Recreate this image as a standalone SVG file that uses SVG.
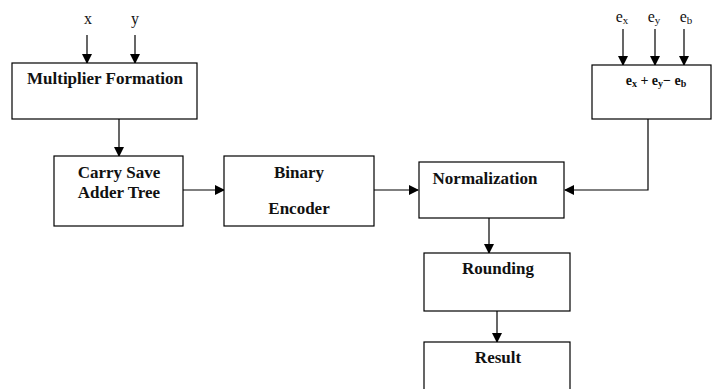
<svg xmlns="http://www.w3.org/2000/svg" width="712" height="389" viewBox="0 0 712 389">
<defs>
<marker id="ah" markerWidth="10" markerHeight="10" refX="9" refY="5" orient="auto" markerUnits="userSpaceOnUse">
<path d="M0,0 L10,5 L0,10 Z" fill="#000"/>
</marker>
<style>
.box{fill:#fff;stroke:#000;stroke-width:1.2}
.t{font-family:"Liberation Serif","Times New Roman",serif;font-weight:bold;font-size:17px;fill:#111;text-anchor:middle}
.lbl{font-family:"Liberation Serif","Times New Roman",serif;font-size:16px;fill:#111;text-anchor:middle}
.sm{font-family:"Liberation Serif","Times New Roman",serif;font-weight:bold;font-size:14px;fill:#111;text-anchor:middle}
.c{fill:none;stroke:#000;stroke-width:1.2;marker-end:url(#ah)}
</style>
</defs>
<rect width="712" height="389" fill="#fff"/>
<g id="connectors">
<path class="c" d="M87,35 V63"/>
<path class="c" d="M135,35 V63"/>
<path class="c" d="M623,29 V65"/>
<path class="c" d="M655,29 V65"/>
<path class="c" d="M684,29 V65"/>
<path class="c" d="M119,119 V156"/>
<path class="c" d="M183,190 H224"/>
<path class="c" d="M374,190 H418"/>
<path class="c" d="M648,119 V190 H565"/>
<path class="c" d="M489,218 V253"/>
<path class="c" d="M497,311 V342"/>
</g>
<g id="inputs">
<text class="lbl" x="88" y="24">x</text>
<text class="lbl" x="135" y="24">y</text>
<text class="lbl" x="622" y="22">e<tspan font-size="11" dy="2">x</tspan></text>
<text class="lbl" x="654" y="22">e<tspan font-size="11" dy="2">y</tspan></text>
<text class="lbl" x="686" y="22">e<tspan font-size="11" dy="2">b</tspan></text>
</g>
<g id="multiplier">
<rect class="box" x="12" y="63" width="185" height="56"/>
<text class="t" x="105" y="84">Multiplier Formation</text>
</g>
<g id="exponent">
<rect class="box" x="592" y="65" width="119" height="54"/>
<text class="sm" x="656" y="85">e<tspan font-size="10" dy="2">x</tspan><tspan dy="-2"> + e</tspan><tspan font-size="10" dy="2">y</tspan><tspan dy="-2">− e</tspan><tspan font-size="10" dy="2">b</tspan></text>
</g>
<g id="csa">
<rect class="box" x="54" y="156" width="129" height="70"/>
<text class="t" x="119" y="178">Carry Save</text>
<text class="t" x="119" y="198">Adder Tree</text>
</g>
<g id="encoder">
<rect class="box" x="224" y="156" width="150" height="70"/>
<text class="t" x="299" y="178">Binary</text>
<text class="t" x="299" y="214">Encoder</text>
</g>
<g id="normalization">
<rect class="box" x="419" y="162" width="145" height="56"/>
<text class="t" x="485" y="184">Normalization</text>
</g>
<g id="rounding">
<rect class="box" x="424" y="253" width="146" height="58"/>
<text class="t" x="498" y="274">Rounding</text>
</g>
<g id="result">
<rect class="box" x="424" y="342" width="146" height="60"/>
<text class="t" x="498" y="363">Result</text>
</g>
</svg>
